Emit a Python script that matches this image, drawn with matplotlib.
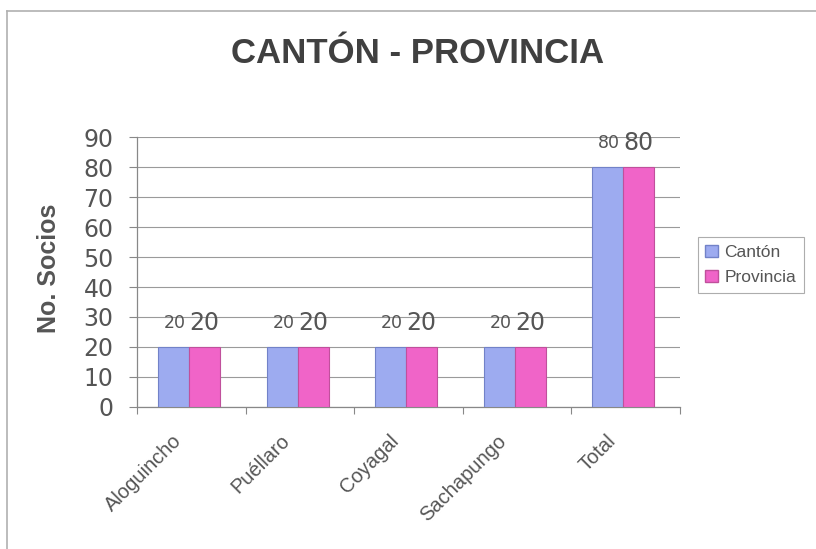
import numpy as np
import matplotlib.pyplot as plt
import matplotlib.transforms as mtransforms
from matplotlib.lines import Line2D

plt.rcParams['font.family'] = ['Liberation Sans', 'DejaVu Sans']

categories = ["Aloguincho", "Puéllaro", "Coyagal", "Sachapungo", "Total"]
canton = [20, 20, 20, 20, 80]
provincia = [20, 20, 20, 20, 80]
series_names = ["Cantón", "Provincia"]
yticks = [0, 10, 20, 30, 40, 50, 60, 70, 80, 90]

blue = "#9dabf0"
pink = "#f064c8"
text_grey = "#555555"
num_font = "DejaVu Sans"

fig = plt.figure(figsize=(8.16, 5.49), dpi=100)
ax = fig.add_axes([0.168, 0.259, 0.665, 0.491])

x = np.arange(len(categories))
w = 0.285
shift = -0.02
b1 = ax.bar(x - w / 2 + shift, canton, w, color=blue, edgecolor="#7282c8", linewidth=0.8, zorder=3)
b2 = ax.bar(x + w / 2 + shift, provincia, w, color=pink, edgecolor="#c0509c", linewidth=0.8, zorder=3)

for rect, v in zip(b1, canton):
    ax.text(rect.get_x() + rect.get_width() / 2 + 0.01, v + 8, str(v), ha="center", va="center",
            fontsize=12.5, color=text_grey, family=num_font)
for rect, v in zip(b2, provincia):
    ax.text(rect.get_x() + rect.get_width() / 2, v + 8, str(v), ha="center", va="center",
            fontsize=17, color=text_grey, family=num_font)

ax.set_xlim(-0.5, len(categories) - 0.5)
ax.set_ylim(0, 90)
ax.set_yticks(yticks)
ax.set_yticklabels([str(t) for t in yticks], fontsize=17, color=text_grey, family=num_font)
ax.yaxis.grid(True, color="#9a9a9a", linewidth=0.8, zorder=0)
ax.set_axisbelow(True)

# category boundaries carry the tick marks; names are drawn rotated under each group
ax.set_xticks(np.arange(len(categories) + 1) - 0.5)
ax.set_xticklabels([])
ax.tick_params(axis="x", length=5, color="#888888")
ax.tick_params(axis="y", length=6, color="#888888", pad=11)

label_tf = mtransforms.blended_transform_factory(ax.transData, ax.transAxes)
for xi, name in zip(x, categories):
    ax.text(xi - 0.12, -0.115, name, transform=label_tf, rotation=45, ha="right", va="center",
            rotation_mode="anchor", fontsize=14.5, color=text_grey)

for s in ["top", "right"]:
    ax.spines[s].set_visible(False)
for s in ["left", "bottom"]:
    ax.spines[s].set_color("#888888")
    ax.spines[s].set_linewidth(0.9)

ax.set_ylabel("No. Socios", fontsize=18, fontweight="bold", color=text_grey)
ax.yaxis.set_label_coords(-0.14, 0.515)

fig.text(0.512, 0.903, "CANTÓN - PROVINCIA", ha="center", va="center",
         fontsize=25, fontweight="bold", color="#404040")

handles = [plt.Rectangle((0, 0), 1, 1, facecolor=blue, edgecolor="#7282c8"),
           plt.Rectangle((0, 0), 1, 1, facecolor=pink, edgecolor="#c0509c")]
leg = fig.legend(handles, series_names, loc="upper left", bbox_to_anchor=(0.855, 0.568),
                 fontsize=12.5, frameon=True, fancybox=False, handlelength=0.7, handleheight=0.7,
                 handletextpad=0.4, borderpad=0.45, labelspacing=0.55, labelcolor=text_grey,
                 borderaxespad=0)
leg.get_frame().set_edgecolor("#999999")
leg.get_frame().set_linewidth(0.8)

# outer chart border (left and top edges)
fig.add_artist(Line2D([0.0086, 0.0086], [0.0, 0.98], transform=fig.transFigure, color="#b0b0b0", linewidth=1.2))
fig.add_artist(Line2D([0.0086, 1.0], [0.98, 0.98], transform=fig.transFigure, color="#b0b0b0", linewidth=1.2))

fig.savefig("out.png", dpi=100)
